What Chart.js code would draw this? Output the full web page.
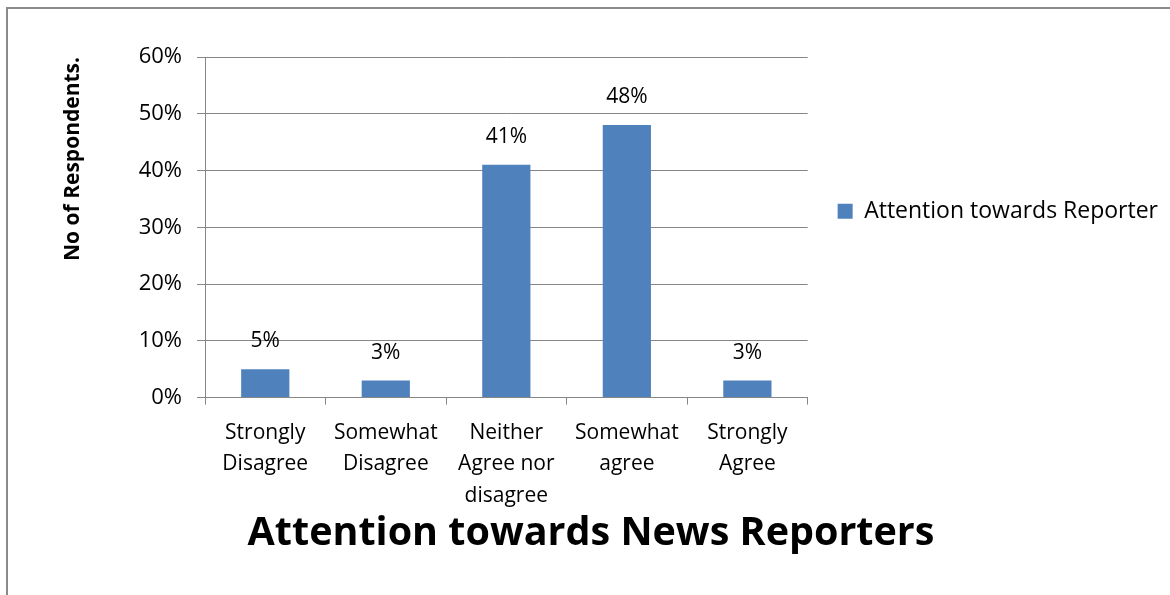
<!DOCTYPE html>
<html>
<head>
<meta charset="utf-8">
<script src="https://cdn.jsdelivr.net/npm/chart.js@4.4.1/dist/chart.umd.min.js"></script>
<style>
  html, body { margin: 0; padding: 0; background: #fff; }
  .frame { position: absolute; left: 6px; top: 7px; width: 1164px; height: 588px;
           border-left: 2px solid #8a8a8a; border-top: 2px solid #8a8a8a; }
  .wrap { position: absolute; left: 0; top: 0; width: 1170px; height: 595px; }
</style>
</head>
<body>
<div class="frame"></div>
<div class="wrap"><canvas id="myChart" width="1170" height="595"></canvas></div>
<script>
var categories = [
  ["Strongly", "Disagree"],
  ["Somewhat", "Disagree"],
  ["Neither", "Agree nor", "disagree"],
  ["Somewhat", "agree"],
  ["Strongly", "Agree"]
];
var attention = [5, 3, 41, 48, 3];
var yTicks = [0, 10, 20, 30, 40, 50, 60];

var FONT = "'Open Sans', sans-serif";
var GRID = "#868686";

// value labels above each bar
var barLabels = {
  id: "barLabels",
  afterDatasetsDraw: function (chart) {
    var ctx = chart.ctx;
    var meta = chart.getDatasetMeta(0);
    ctx.save();
    ctx.font = "21px " + FONT;
    ctx.fillStyle = "#000";
    ctx.textAlign = "center";
    ctx.textBaseline = "middle";
    meta.data.forEach(function (bar, i) {
      ctx.fillText(chart.data.datasets[0].data[i] + "%", bar.x, bar.y - 28);
    });
    ctx.restore();
  }
};

// lift the legend a little above the plot's middle
var legendNudge = {
  id: "legendNudge",
  afterLayout: function (chart) {
    chart.legend.top -= 16;
    chart.legend.bottom -= 16;
  }
};

function drawChart() {
  new Chart("myChart", {
    type: "bar",
    data: {
      labels: categories,
      datasets: [{
        label: "Attention towards Reporter",
        data: attention,
        backgroundColor: "#4F81BD",
        borderWidth: 0,
        categoryPercentage: 1,
        barPercentage: 0.4
      }]
    },
    options: {
      responsive: false,
      animation: false,
      layout: { padding: { left: 14, top: 57, right: 2, bottom: 28 } },
      plugins: {
        legend: {
          position: "right",
          fullSize: false,
          maxWidth: 420,
          labels: {
            boxWidth: 15,
            boxHeight: 15,
            padding: 30,
            color: "#000",
            font: { family: FONT, size: 23 }
          }
        },
        title: {
          display: true,
          position: "bottom",
          text: "Attention towards News Reporters",
          color: "#000",
          font: { family: FONT, size: 39.5, weight: "bold" },
          padding: { top: 0, bottom: 10 }
        },
        tooltip: { enabled: false }
      },
      scales: {
        x: {
          grid: {
            display: true,
            drawOnChartArea: false,
            drawTicks: true,
            tickLength: 7,
            offset: true,
            color: GRID
          },
          border: { color: GRID, width: 1 },
          ticks: {
            maxRotation: 0,
            autoSkip: false,
            padding: 12,
            color: "#000",
            font: { family: FONT, size: 21, lineHeight: 1.52 }
          },
          afterFit: function (scale) { scale.height = 112; }
        },
        y: {
          min: yTicks[0],
          max: yTicks[yTicks.length - 1],
          afterBuildTicks: function (scale) {
            scale.ticks = yTicks.map(function (v) { return { value: v }; });
          },
          grid: { color: GRID, tickLength: 8 },
          border: { color: GRID, width: 1 },
          ticks: {
            padding: 15,
            color: "#000",
            font: { family: FONT, size: 22 },
            callback: function (v) { return v + "%"; }
          },
          title: {
            display: true,
            text: "No of Respondents.",
            align: "end",
            color: "#000",
            font: { family: FONT, size: 21, weight: "bold" },
            padding: { top: 46, bottom: 0 }
          },
          afterFit: function (scale) { scale.width = 191; }
        }
      }
    },
    plugins: [barLabels, legendNudge]
  });
}

// make sure the fonts are ready before Chart.js measures text
Promise.all([
  document.fonts.load("21px 'Open Sans'"),
  document.fonts.load("bold 39px 'Open Sans'")
]).then(drawChart, drawChart);
</script>
</body>
</html>
